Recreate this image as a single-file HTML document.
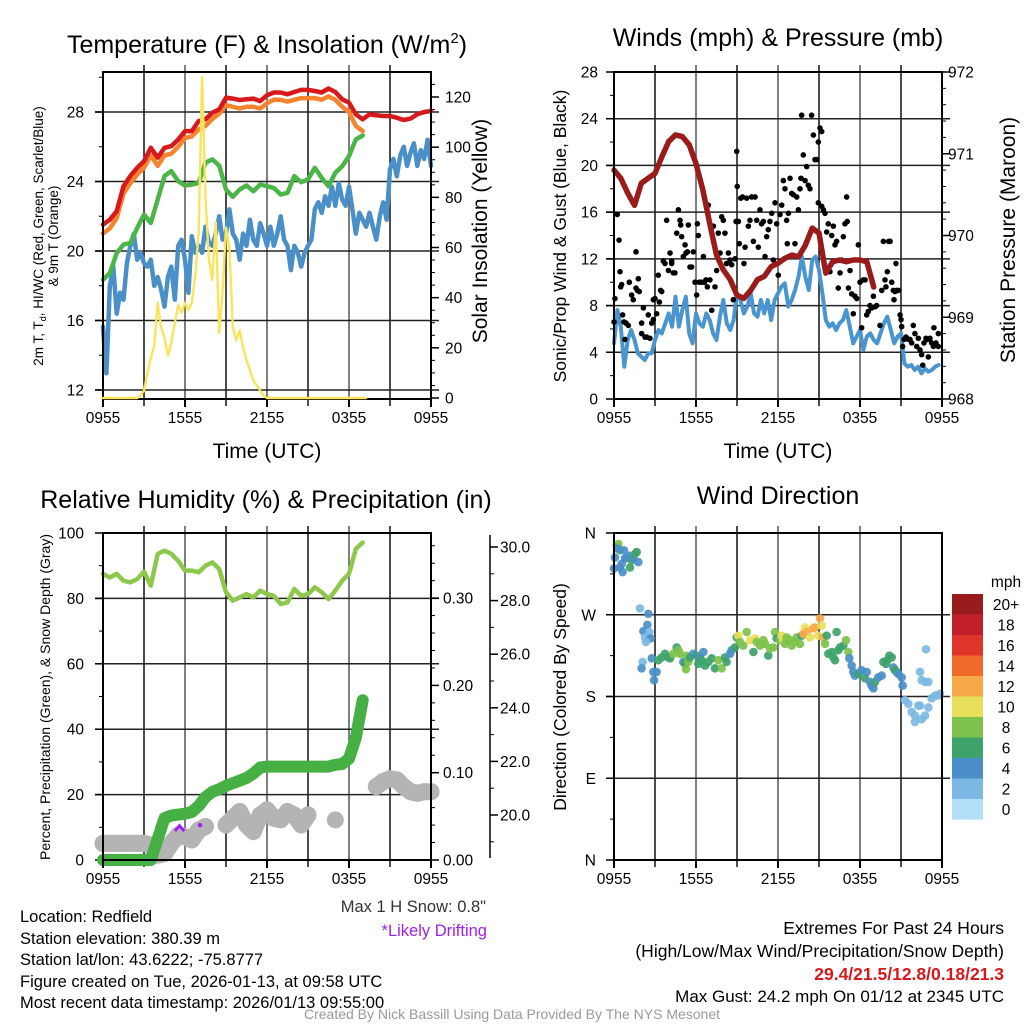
<!DOCTYPE html>
<html><head><meta charset="utf-8"><title>Mesonet Station Meteogram</title>
<style>
html,body{margin:0;padding:0;background:#fff;}
svg{display:block;font-family:"Liberation Sans",Arial,sans-serif;}
</style></head>
<body>
<svg id="chart" width="1024" height="1024" viewBox="0 0 1024 1024" xmlns="http://www.w3.org/2000/svg">
<rect x="0" y="0" width="1024" height="1024" fill="#fff"/>
<!-- Titles -->
<text x="267" y="53" font-size="25" text-anchor="middle">Temperature (F) &amp; Insolation (W/m<tspan font-size="15" dy="-10">2</tspan><tspan dy="10">)</tspan></text>
<text x="778" y="46" font-size="25" text-anchor="middle">Winds (mph) &amp; Pressure (mb)</text>
<text x="266" y="508" font-size="25" text-anchor="middle">Relative Humidity (%) &amp; Precipitation (in)</text>
<text x="778" y="504" font-size="25" text-anchor="middle">Wind Direction</text>
<!-- axis titles -->
<text x="267" y="458" font-size="21" text-anchor="middle">Time (UTC)</text>
<text x="778" y="458" font-size="21" text-anchor="middle">Time (UTC)</text>
<text transform="translate(43,236) rotate(-90)" font-size="13.5" text-anchor="middle">2m T, T<tspan font-size="9" dy="3">d</tspan><tspan dy="-3">, HI/WC (Red, Green, Scarlet/Blue)</tspan></text>
<text transform="translate(58,236) rotate(-90)" font-size="13.5" text-anchor="middle">&amp; 9m T (Orange)</text>
<text transform="translate(487,231) rotate(-90)" font-size="21" text-anchor="middle">Solar Insolation (Yellow)</text>
<text transform="translate(566,236) rotate(-90)" font-size="17.5" text-anchor="middle">Sonic/Prop Wind &amp; Gust (Blue, Black)</text>
<text transform="translate(1015,240) rotate(-90)" font-size="21" text-anchor="middle">Station Pressure (Maroon)</text>
<text transform="translate(50,697) rotate(-90)" font-size="14" text-anchor="middle">Percent, Precipitation (Green), &amp; Snow Depth (Gray)</text>
<text transform="translate(566,697) rotate(-90)" font-size="17.5" text-anchor="middle">Direction (Colored By Speed)</text>
<!-- footer texts -->
<g font-size="16.5">
<text x="20" y="922">Location: Redfield</text>
<text x="20" y="944">Station elevation: 380.39 m</text>
<text x="20" y="965">Station lat/lon: 43.6222; -75.8777</text>
<text x="20" y="987">Figure created on Tue, 2026-01-13, at 09:58 UTC</text>
<text x="20" y="1008">Most recent data timestamp: 2026/01/13 09:55:00</text>
</g>
<text x="486" y="912" font-size="16.5" text-anchor="end" fill="#333">Max 1 H Snow: 0.8"</text>
<text x="487" y="936" font-size="16.5" text-anchor="end" fill="#a020f0">*Likely Drifting</text>
<text x="1004" y="934" font-size="17.5" text-anchor="end">Extremes For Past 24 Hours</text>
<text x="1004" y="957" font-size="17.5" text-anchor="end">(High/Low/Max Wind/Precipitation/Snow Depth)</text>
<text x="1004" y="980" font-size="17.5" font-weight="bold" text-anchor="end" fill="#d7191c">29.4/21.5/12.8/0.18/21.3</text>
<text x="1004" y="1002" font-size="17" text-anchor="end">Max Gust: 24.2 mph On 01/12 at 2345 UTC</text>
<text x="512" y="1019" font-size="14" text-anchor="middle" fill="#999">Created By Nick Bassill Using Data Provided By The NYS Mesonet</text>
</svg>
<script>
// ---------------- DATA ----------------
const timeTicks = ["0955","1555","2155","0355","0955"];
// Temperature panel (0.5 h step from 0955 UTC)
const tempRed = [21.52,21.8,22.29,23.73,24.31,24.79,25.17,25.94,25.37,25.94,26.04,26.42,26.9,26.9,27.48,27.58,27.96,28.15,28.83,28.77,28.69,28.73,28.77,28.63,28.96,29.12,29.12,29.02,29.15,29.27,29.27,29.21,29.12,29.35,29.15,28.73,28.54,27.87,27.58,27.87,27.81,27.77,27.77,27.67,27.54,27.62,27.87,28.0,28.06];
const tempOrange = [21.0,21.3,21.9,23.3,23.9,24.4,24.8,25.5,24.9,25.5,25.6,26.0,26.5,26.6,27.0,27.2,27.6,27.9,28.4,28.3,28.2,28.3,28.3,28.2,28.5,28.7,28.7,28.6,28.7,28.8,28.8,28.8,28.7,28.9,28.7,28.3,28.0,27.2,26.9];
const dewGreen = [18.35,18.73,19.88,20.37,20.46,21.33,22.1,21.62,22.96,24.31,24.6,24.02,23.77,23.83,23.92,25.08,25.27,24.92,23.54,23.12,23.54,23.77,23.44,23.83,23.73,23.63,23.25,23.35,24.31,23.96,24.12,24.79,24.21,23.73,24.5,24.88,25.46,26.42,26.65];
// 0.25 h step
const windChillBlue = [15.65,12.96,17.96,19.1,16.4,17.6,17.2,19.3,20.3,21.0,19.5,19.9,19.3,19.1,19.5,18.0,18.5,17.8,16.8,18.5,19.1,17.2,20.3,20.65,19.5,17.6,20.85,19.9,20.3,19.9,21.4,20.5,20.3,21.0,22.0,20.65,21.0,22.4,21.0,20.65,19.5,21.0,20.3,21.8,20.65,20.3,21.6,21.0,20.3,21.4,20.3,21.0,22.0,20.65,20.3,18.9,20.3,19.9,19.1,19.9,20.3,20.65,22.4,22.8,22.2,23.15,22.6,23.7,22.6,23.9,22.95,22.6,23.7,22.4,21.0,22.2,21.8,21.4,22.2,21.4,20.65,22.0,22.8,21.8,24.7,25.3,24.3,25.5,26.0,24.9,25.65,26.2,24.9,25.8,25.3,26.4,24.9];
const insolation = [0,0,0,0,0,0,0,0,0,0,0,1,3,10,16,21,38,28,24,17,22,30,37,34,38,35,38,49,66,128,80,55,47,70,26,42,68,60,28,23,27,20,15,11,7,5,3,1,0,0,0,0,0,0,0,0,0,0,0,0,0,0,0,0,0,0,0,0,0,0,0,0,0,0,0,0,0,0];
// Wind panel
const pressure = [970.80,970.70,970.52,970.37,970.64,970.70,970.76,970.96,971.15,971.23,971.21,971.11,970.88,970.56,970.15,969.76,969.58,969.46,969.27,969.23,969.33,969.46,969.50,969.62,969.66,969.72,969.76,969.74,969.88,970.09,970.03,969.54,969.68,969.70,969.68,969.70,969.70,969.68,969.37];
const windSpeed = [4.77,7.62,6.19,2.77,5.05,5.91,5.05,3.91,3.62,3.34,3.91,3.91,5.05,5.91,5.62,6.48,7.33,6.19,8.76,6.19,7.62,8.76,5.62,4.77,7.33,6.48,6.19,7.33,6.76,5.62,5.05,7.05,8.48,6.48,5.91,6.76,9.05,8.48,7.33,7.91,9.05,7.33,7.05,8.48,7.33,8.48,6.76,8.48,9.05,9.62,9.9,7.91,8.48,9.33,10.47,12.19,10.47,9.33,11.9,12.19,11.04,9.05,6.76,6.19,6.48,5.91,6.48,6.76,7.62,6.19,4.77,5.34,5.91,4.2,5.34,5.62,5.05,4.77,5.62,6.48,7.05,5.91,4.77,5.34,5.62,3.05,2.77,2.91,2.48,2.77,2.2,2.62,2.34,2.48,2.77,2.91];
const gustHour = [0.0,0.07,0.24,0.37,0.44,0.49,0.56,0.63,0.73,0.88,1.05,0.8,1.12,1.29,1.41,1.61,1.61,1.71,1.78,1.85,2.02,2.02,2.15,2.27,2.39,2.51,2.63,2.76,2.88,2.88,3.0,3.12,3.24,3.32,3.41,3.49,3.61,3.73,3.85,3.98,4.1,4.22,4.22,4.34,4.46,4.59,4.71,4.83,4.88,4.95,5.07,5.2,5.27,5.37,5.44,5.56,5.68,5.8,5.93,6.05,6.1,6.17,6.24,6.41,6.54,6.61,6.73,6.83,6.9,7.02,7.15,7.27,7.39,7.51,7.63,7.76,7.88,8.0,8.12,8.24,8.37,8.49,8.61,8.73,8.85,8.93,8.98,9.02,9.1,9.17,9.27,9.41,9.51,9.59,9.71,9.83,9.95,10.07,10.2,10.32,10.44,10.56,10.68,10.8,10.93,11.05,11.17,11.29,11.41,11.54,11.66,11.78,11.9,12.02,12.15,12.27,12.39,12.51,12.63,12.68,12.76,12.88,13.0,13.12,13.24,13.37,13.49,13.61,13.68,13.73,13.85,13.98,14.1,14.22,14.34,14.46,14.59,14.71,14.83,14.95,15.07,15.2,14.95,15.2,15.32,15.44,15.56,15.68,15.8,15.93,16.05,16.17,16.29,16.41,16.54,16.66,16.78,16.9,17.02,17.07,17.15,17.27,17.39,17.51,17.63,17.76,17.88,18.0,18.12,18.24,18.37,18.49,18.61,18.73,18.85,18.98,19.1,19.22,19.46,19.59,19.71,19.83,19.9,20.0,20.1,20.2,20.32,20.44,20.49,20.56,20.63,20.68,20.8,20.93,21.0,21.05,21.12,21.22,21.37,21.54,21.66,21.78,21.9,22.02,22.15,22.27,22.39,22.51,22.59,22.68,22.83,22.93,23.0,23.12,23.24,23.37,23.41,23.56,23.73,23.73];
const gustSpeed = [6.6,8.6,15.8,13.6,10.9,9.6,9.8,7.2,6.6,6.5,6.3,5.1,10.0,8.9,8.5,9.5,12.6,9.3,10.3,9.2,6.5,5.6,7.8,5.3,5.3,7.2,5.2,6.5,6.8,8.5,8.6,7.3,10.6,8.3,9.3,9.2,11.8,11.6,15.3,11.0,12.5,11.8,11.6,10.8,10.8,14.2,16.2,15.3,14.9,13.9,12.2,13.2,12.5,12.6,14.9,11.3,11.3,12.6,10.0,8.9,15.0,14.0,10.0,10.0,12.2,10.0,10.2,9.6,16.6,10.2,7.6,14.8,9.6,11.0,14.2,12.5,15.6,15.3,14.2,11.6,12.5,11.9,11.5,8.5,12.0,15.2,21.2,18.2,15.2,13.3,17.2,17.3,11.6,13.0,17.2,14.8,15.3,17.3,13.5,17.3,15.3,13.0,16.2,15.0,15.2,12.2,13.9,14.5,15.2,15.9,11.9,16.8,15.0,10.6,15.8,16.6,18.7,18.0,15.3,13.3,15.9,18.9,17.6,17.5,13.3,17.3,16.2,18.0,18.9,24.3,20.9,18.7,19.9,18.3,18.0,24.3,22.6,20.5,20.5,22.0,23.2,22.9,16.8,16.5,16.2,15.9,14.3,15.0,10.9,14.0,14.8,13.2,13.5,9.5,10.8,11.9,13.9,15.0,17.3,15.2,9.5,11.0,9.0,7.3,8.8,8.6,13.2,10.0,6.1,10.2,10.2,7.2,7.5,8.0,7.8,8.8,7.9,8.0,6.3,9.3,13.5,10.2,9.6,10.9,13.5,13.5,10.0,9.3,8.5,9.2,11.6,9.3,9.3,7.2,6.8,6.2,4.5,5.1,5.3,5.1,5.1,4.8,6.3,5.6,4.5,5.2,4.2,3.8,2.9,4.8,5.2,5.1,3.6,5.2,4.8,4.5,6.1,4.8,5.6,4.5];
// Humidity / precip / snow panel (0.5 h step)
const relHumidity = [87.5,86.4,87.5,85.4,84.9,85.9,88.2,83.9,93.6,94.6,93.6,91.5,88.5,88.5,88.0,90.0,91.0,89.0,81.9,79.3,80.3,81.3,80.3,82.4,81.3,80.8,78.3,78.8,82.9,80.8,81.3,83.4,81.9,79.8,82.4,85.4,87.5,95.1,97.1];
const precipIn = [0,0,0,0,0,0,0,0,0.024,0.048,0.051,0.052,0.053,0.055,0.062,0.072,0.078,0.081,0.085,0.088,0.091,0.094,0.099,0.106,0.107,0.107,0.107,0.107,0.107,0.107,0.107,0.107,0.107,0.107,0.109,0.110,0.116,0.14,0.183];
const snowDepth = [18.94,18.94,18.94,18.94,18.94,18.94,18.94,18.88,18.5,18.56,18.94,19.25,19.19,19.07,19.44,19.57,null,null,19.63,19.88,20.13,19.63,19.38,20.0,20.19,19.88,19.82,20.13,20.0,19.63,20.0,null,null,null,19.82,null,null,null,null,null,21.06,21.25,21.35,21.31,21.06,20.87,20.81,20.87,20.87];
const driftHour = [5.27,5.6,5.95];
const driftDepth = [19.4,19.6,19.4];
// Wind direction panel
const dirHour = [0.2,0.32,0.44,0.07,0.24,0.73,0.93,0.8,1.12,1.29,1.41,1.54,1.66,1.78,0.0,0.44,0.63,1.17,0.56,1.9,2.51,2.44,2.15,2.59,2.27,2.68,2.34,2.1,2.02,2.76,2.88,3.12,2.93,3.24,3.49,3.73,3.98,4.1,4.34,4.59,4.71,4.83,5.07,5.2,5.32,5.44,5.27,5.56,5.8,6.05,6.29,6.17,6.41,6.54,6.66,6.9,7.15,7.39,7.63,7.88,8.12,8.24,8.49,8.61,8.85,8.98,9.1,9.22,9.46,9.71,9.95,10.32,10.44,10.2,10.68,10.93,11.05,11.29,11.41,11.66,11.78,11.9,12.15,12.27,12.39,12.51,12.63,12.88,13.0,13.24,13.37,13.61,13.73,13.85,13.98,14.1,14.34,14.59,14.71,14.95,15.07,15.2,15.32,15.56,15.44,15.68,15.93,16.05,16.17,16.29,16.41,16.54,16.78,16.98,17.15,17.22,17.39,17.51,17.63,17.88,18.12,18.37,18.49,18.73,18.85,18.98,19.1,19.34,19.59,19.71,19.9,20.0,20.15,20.32,20.44,20.56,20.68,20.8,21.05,21.12,21.29,21.54,21.78,22.02,22.27,22.39,22.51,22.76,23.0,23.24,23.49,23.73,23.85,22.39,22.51,22.76,23.0,22.83,22.02];
const dirDeg = [346,348,341,333,343,341,333,332,335,330,332,337,339,328,321,322,317,322,326,277,271,259,252,251,245,244,240,218,211,222,207,207,198,220,223,227,223,222,227,234,231,227,218,216,225,218,210,223,227,225,223,216,220,229,214,218,222,211,220,211,223,218,227,231,234,245,247,240,236,251,242,244,240,229,236,242,238,225,233,234,251,244,242,247,242,238,245,242,236,240,245,238,247,249,256,251,245,255,256,247,266,258,245,247,238,227,229,223,220,251,231,234,236,242,229,222,214,207,203,205,209,200,207,196,192,189,196,201,203,218,216,220,225,223,212,209,207,205,201,192,176,172,163,159,170,170,155,159,168,178,181,181,183,207,198,196,196,232,152];
const dirSpeed = [8,8,6,4,4,4,4,4,4,6,4,6,6,4,4,4,4,6,4,2,4,4,4,2,2,4,2,2,4,4,4,4,4,6,6,6,6,6,8,6,8,8,4,6,8,8,8,6,4,6,4,6,6,4,6,6,6,6,8,8,6,6,4,4,6,6,10,8,8,8,10,10,8,6,8,8,8,6,8,8,8,6,8,10,10,8,8,8,8,8,8,8,6,12,10,12,10,12,12,10,12,10,12,6,8,6,6,6,6,6,6,6,6,8,8,4,4,4,4,6,4,6,4,4,4,4,6,4,4,6,6,6,6,6,4,6,6,4,4,4,2,2,2,2,2,2,2,2,2,2,2,2,2,2,2,2,2,2,2];
const cbLabels = ["20+","18","16","14","12","10","8","6","4","2","0"];
const cbColors = ["#9a1b1e","#c0202a","#e0352b","#f06a2a","#f7a94a","#e8e05a","#7dc24b","#3ea36a","#4a8fc8","#7cb8e3","#b3e0f7"];

// ---------------- DRAWING ----------------
const NS = "http://www.w3.org/2000/svg";
const svg = document.getElementById("chart");
function mk(tag, attrs, parent) {
  const e = document.createElementNS(NS, tag);
  for (const k in attrs) e.setAttribute(k, attrs[k]);
  (parent || svg).appendChild(e);
  return e;
}
function linScale(d0, d1, r0, r1) { return v => r0 + (v - d0) * (r1 - r0) / (d1 - d0); }

const P1 = {x0:103, x1:431, y0:72, y1:399};
const P2 = {x0:614, x1:942, y0:72, y1:399};
const P3 = {x0:103, x1:431, y0:533, y1:860};
const P4 = {x0:614, x1:942, y0:533, y1:860};
[P1,P2,P3,P4].forEach(p => { p.x = linScale(0, 24, p.x0, p.x1); });
P1.y = linScale(12, 28, 390, 112);
P1.yr = linScale(0, 120, 398, 97);
P2.y = linScale(0, 28, 399, 72);
P2.yr = linScale(968, 972, 399, 72);
P3.y = linScale(0, 100, 860, 533);
P3.yp = linScale(0, 0.1, 860, 772.7);
P3.ys = linScale(20, 30, 815, 547);
P4.y = linScale(0, 360, 860, 533);

function grid(p, name, hLines) {
  const g = mk("g", {});
  
  
  for (let h = 3; h < 24; h += 3) {
    const x = p.x(h);
    const l = mk("line", {x1:x, x2:x, y1:p.y0 - 7, y2:p.y1 + 7, stroke:(h % 6 === 0 ? "#555" : "#111"), "stroke-width":1.5}, g);
    
    
  }
  hLines.forEach(y => {
    const l = mk("line", {x1:p.x0 - 8, x2:p.x1 + 8, y1:y, y2:y, stroke:"#222", "stroke-width":1.5}, g);
    
    
  });
  return g;
}
function frame(p, name) {
  const r = mk("rect", {x:p.x0, y:p.y0, width:p.x1 - p.x0, height:p.y1 - p.y0, fill:"none", stroke:"#000", "stroke-width":2});
  
  
  timeTicks.forEach((t, i) => {
    const x = p.x(i * 6);
    const tk = mk("line", {x1:x, x2:x, y1:p.y1, y2:p.y1 + 8, stroke:"#000", "stroke-width":2});
    
    
    const tx = mk("text", {x:x, y:p.y1 + 24, "font-size":15.5, "text-anchor":"middle"});
    tx.textContent = t;
    
    
  });
}
function yTicks(xAxis, scale, vals, labels, side, minorVals, name, lx, anchor) {
  const dir = side === "left" ? -1 : 1;
  vals.forEach((v, i) => {
    const y = scale(v);
    const t = mk("line", {x1:xAxis, x2:xAxis + dir * 8, y1:y, y2:y, stroke:"#000", "stroke-width":1.5});
    
    
    const tx = mk("text", {x:lx, y:y + 5.5, "font-size":15.5, "text-anchor":anchor});
    tx.textContent = labels[i];
    
    
  });
  minorVals.forEach(v => {
    const y = scale(v);
    const t = mk("line", {x1:xAxis, x2:xAxis + dir * 4, y1:y, y2:y, stroke:"#000", "stroke-width":1});
    
    
  });
}
function range(a, b, s) { const r = []; for (let v = a; v <= b + 1e-9; v += s) r.push(+v.toFixed(4)); return r; }
function pathFrom(p, ys, vals, step) {
  let d = "", pen = false;
  vals.forEach((v, i) => {
    if (v === null) { pen = false; return; }
    d += (pen ? "L" : "M") + p.x(i * step).toFixed(1) + " " + ys(v).toFixed(1);
    pen = true;
  });
  return d;
}
function series(p, ys, vals, step, color, width, name) {
  const e = mk("path", {d:pathFrom(p, ys, vals, step), fill:"none", stroke:color, "stroke-width":width, "stroke-linejoin":"round", "stroke-linecap":"round"});
  
  
  return e;
}

// ---- Panel 1 ----
grid(P1, "temperature", [12,16,20,24,28].map(P1.y));
yTicks(P1.x0, P1.y, [12,16,20,24,28], ["12","16","20","24","28"], "left", [14,18,22,26,30], "temperature-y", 84, "end");
yTicks(P1.x1, P1.yr, [0,20,40,60,80,100,120], ["0","20","40","60","80","100","120"], "right", range(5,125,5).filter(v => v % 20), "insolation-y", 445, "start");
series(P1, P1.y, windChillBlue, 0.25, "#4a8fc8", 4.5, "wind-chill-line");
series(P1, P1.y, dewGreen, 0.5, "#4bb548", 4.5, "dewpoint-line");
series(P1, P1.y, tempOrange, 0.5, "#f6842e", 4.5, "temperature-9m-line");
series(P1, P1.y, tempRed, 0.5, "#d7191c", 4.5, "temperature-2m-line");
frame(P1, "temperature");
series(P1, P1.yr, insolation, 0.25, "#f9e45b", 2.4, "insolation-line");

// ---- Panel 2 ----
grid(P2, "wind", [4,8,12,16,20,24].map(P2.y));
yTicks(P2.x0, P2.y, [0,4,8,12,16,20,24,28], ["0","4","8","12","16","20","24","28"], "left", [2,6,10,14,18,22,26], "wind-y", 598, "end");
yTicks(P2.x1, P2.yr, [968,969,970,971,972], ["968","969","970","971","972"], "right", range(968.2,971.8,0.2).filter(v => Math.abs(v - Math.round(v)) > 0.01), "pressure-y", 948, "start");
series(P2, P2.y, windSpeed, 0.25, "#4a95d0", 4, "wind-speed-line");
const gg = mk("g", {fill:"#000"});


gustHour.forEach((h, i) => {
  const c = mk("circle", {cx:P2.x(h), cy:P2.y(gustSpeed[i]), r:2.8}, gg);
  
  
});
series(P2, P2.yr, pressure, 0.5, "#9b1b1b", 5.5, "pressure-line");
frame(P2, "wind");

// ---- Panel 3 ----
grid(P3, "humidity", [20,40,60,80].map(P3.y));
yTicks(P3.x0, P3.y, [0,20,40,60,80,100], ["0","20","40","60","80","100"], "left", [10,30,50,70,90], "humidity-y", 84, "end");
yTicks(P3.x1, P3.yp, [0,0.1,0.2,0.3], ["0.00","0.10","0.20","0.30"], "right", range(0.02,0.36,0.02).filter(v => Math.abs(v*10 - Math.round(v*10)) > 0.01), "precip-y", 443, "start");
const snowAxis = mk("line", {x1:490, x2:490, y1:535, y2:858, stroke:"#000", "stroke-width":1.5});


yTicks(490, P3.ys, [20,22,24,26,28,30], ["20.0","22.0","24.0","26.0","28.0","30.0"], "right", [19,21,23,25,27,29], "snow-y", 500, "start");
const sg = mk("g", {fill:"#b4b4b4"});


series(P3, P3.ys, snowDepth, 0.5, "#b4b4b4", 17, "snow-depth-line");
snowDepth.forEach((v, i) => {
  if (v === null) return;
  const c = mk("circle", {cx:P3.x(i * 0.5), cy:P3.ys(v), r:8.5}, sg);
  
  
});
series(P3, P3.y, relHumidity, 0.5, "#8dc74c", 4.5, "humidity-line");
series(P3, P3.yp, precipIn, 0.5, "#46b045", 12, "precip-line");
const pg = mk("g", {});


const dp = mk("path", {d:driftHour.map((h, i) => (i ? "L" : "M") + P3.x(h).toFixed(1) + " " + P3.ys(driftDepth[i]).toFixed(1)).join(""), fill:"none", stroke:"#a020f0", "stroke-width":3}, pg);


const dd = mk("circle", {cx:P3.x(7.1), cy:P3.ys(19.62), r:2.2, fill:"#a020f0"}, pg);


frame(P3, "humidity");

// ---- Panel 4 ----
grid(P4, "direction", [90,180,270].map(P4.y));
yTicks(P4.x0, P4.y, [0,90,180,270,360], ["N","E","S","W","N"], "left", [45,135,225,315], "direction-y", 596, "end");
const dg = mk("g", {});


const spdColor = s => cbColors[10 - Math.min(10, Math.floor(s / 2))];
dirHour.forEach((h, i) => {
  const c = mk("circle", {cx:P4.x(h), cy:P4.y(dirDeg[i]), r:4.3, fill:spdColor(dirSpeed[i]), "fill-opacity":0.92}, dg);
  
  
});
frame(P4, "direction");
const cb = mk("g", {});


const cbTitle = mk("text", {x:1006, y:587, "font-size":15.5, "text-anchor":"middle"}, cb);
cbTitle.textContent = "mph";


cbLabels.forEach((lab, i) => {
  const y = 594 + i * 20.5;
  const r = mk("rect", {x:952, y:y, width:31, height:20.6, fill:cbColors[i]}, cb);
  
  
  const t = mk("text", {x:1006, y:y + 16, "font-size":15.5, "text-anchor":"middle"}, cb);
  t.textContent = lab;
  
  
});
</script>
</body></html>
